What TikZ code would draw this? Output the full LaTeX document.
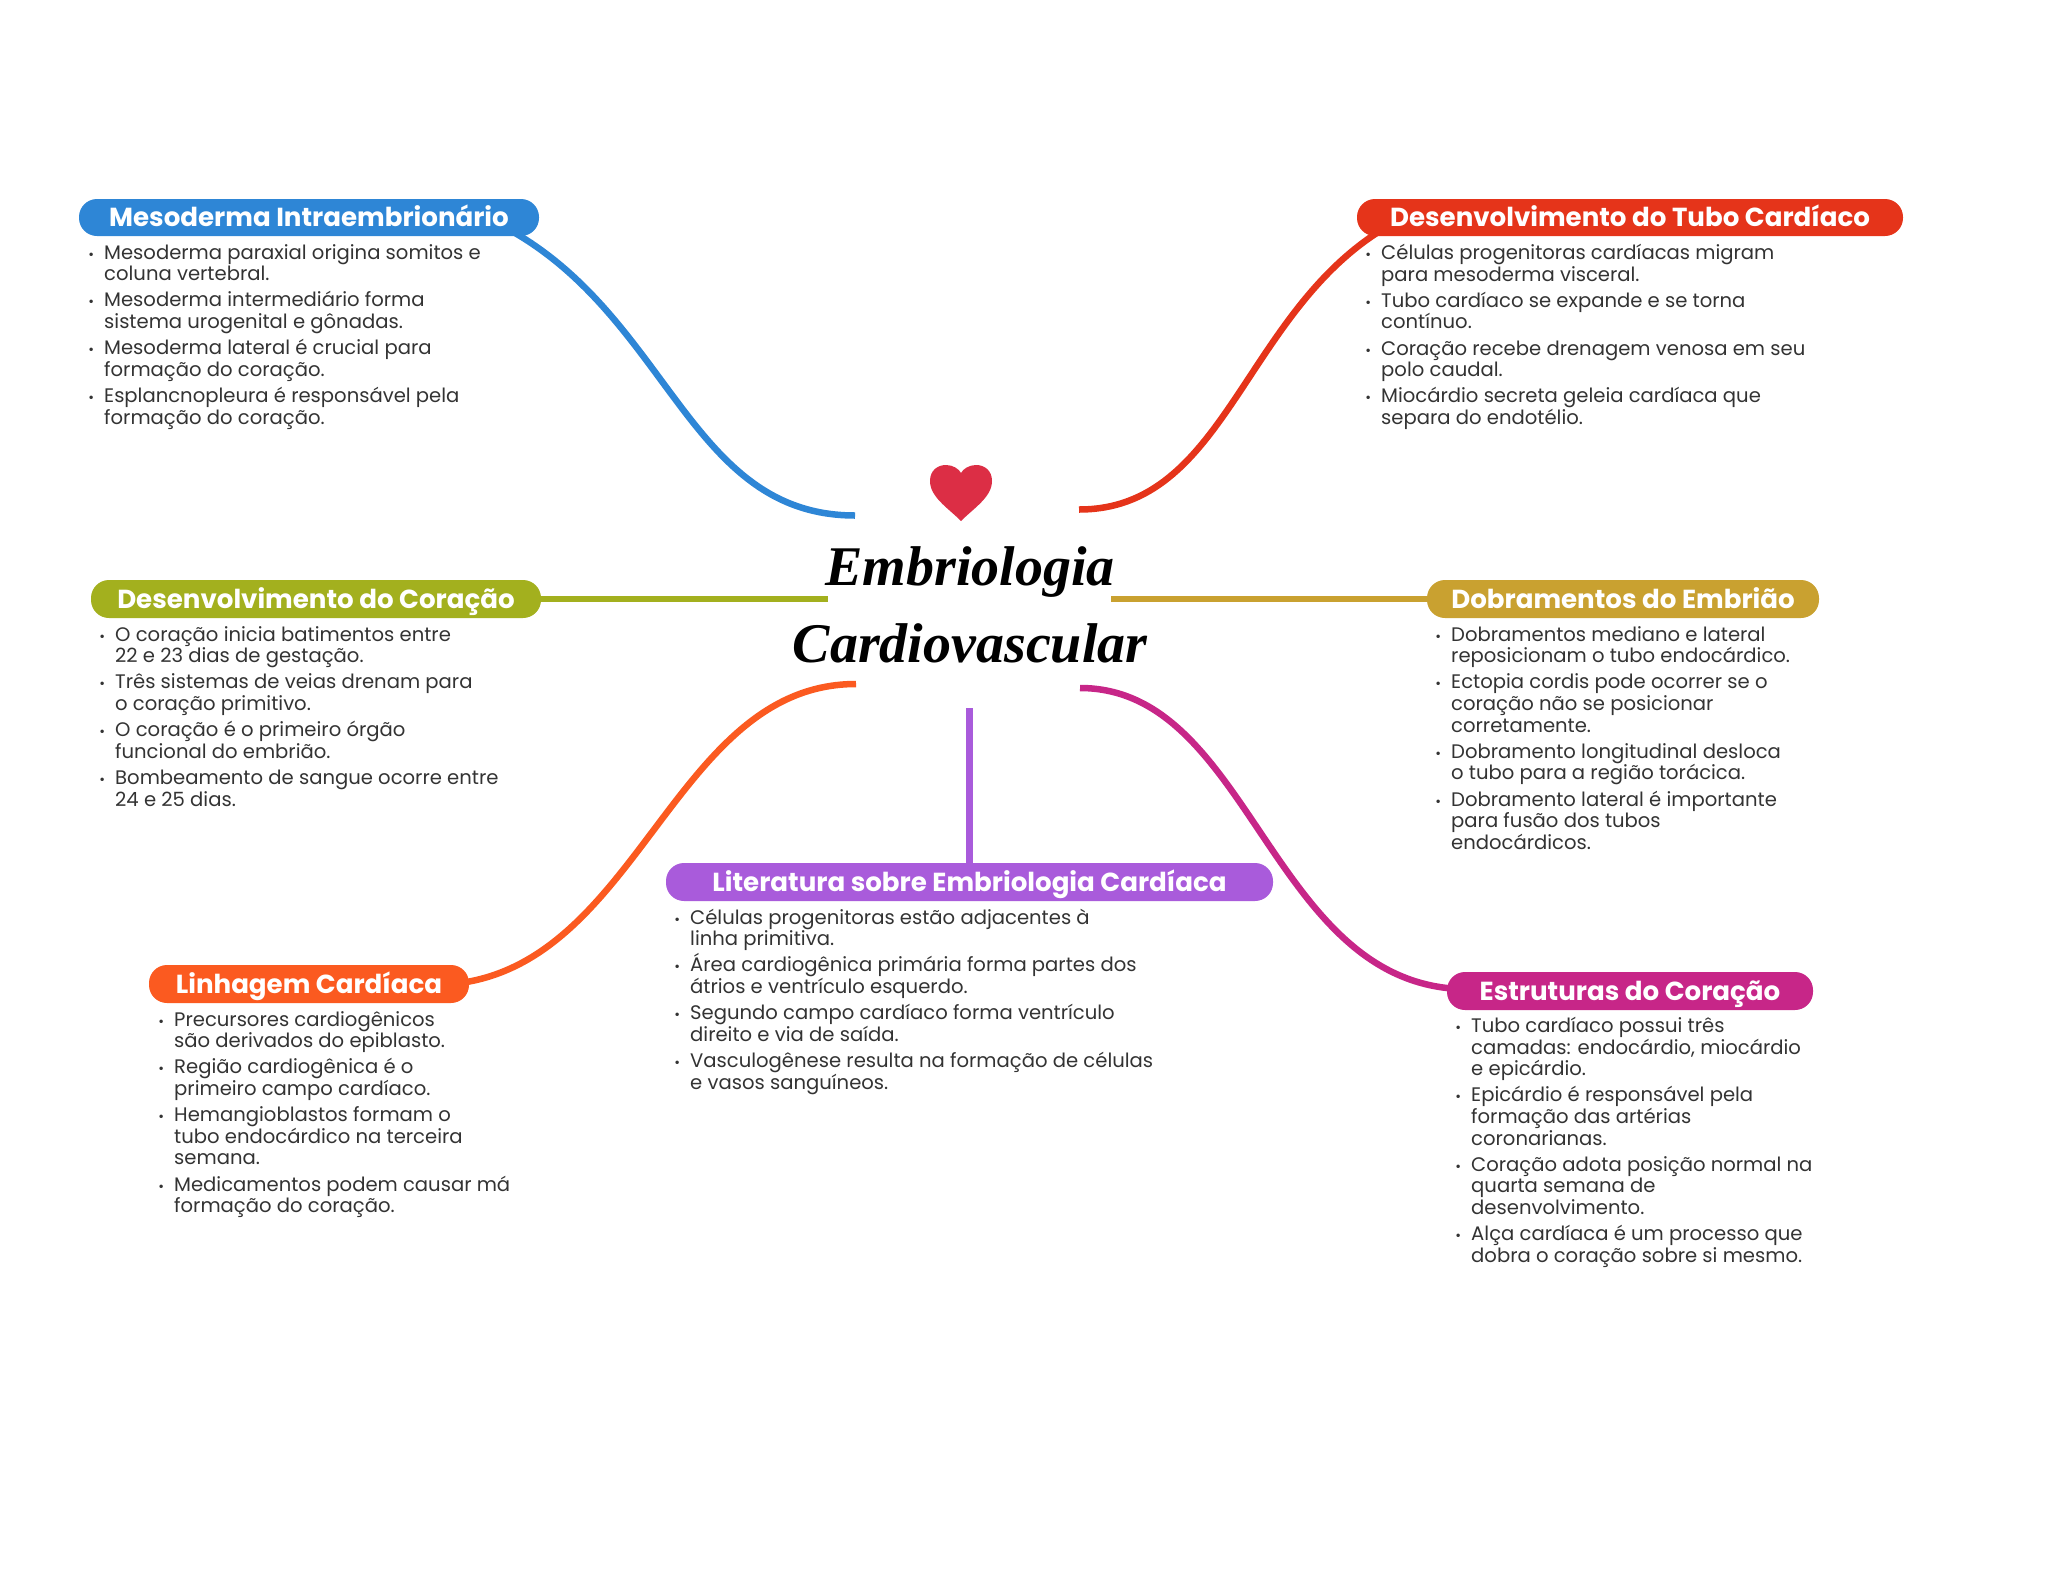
\documentclass[tikz,border=0pt]{standalone}
\usepackage{fontspec}
\setmainfont{Poppins}
\newfontfamily\scriptf{Liberation Serif}
\usetikzlibrary{backgrounds}
\definecolor{cblue}{HTML}{2E86D6}
\definecolor{cred}{HTML}{E5341A}
\definecolor{colive}{HTML}{A3B01E}
\definecolor{cgold}{HTML}{C9A130}
\definecolor{cpurple}{HTML}{A95BDB}
\definecolor{corange}{HTML}{FB5A20}
\definecolor{cmag}{HTML}{C72688}
\definecolor{cheart}{HTML}{DC2E45}
\definecolor{ctext}{HTML}{333333}
\newcommand\bul{\rule{0pt}{14pt}\llap{{\fontsize{14}{14}\selectfont\textbullet}\hspace{10pt}}}
\newcommand\nx{\\[4.6pt]}
\tikzset{
  pill/.style={rounded corners=18pt,text=white,font=\fontsize{26.1}{28}\selectfont\bfseries,inner sep=0pt,anchor=center,text height=22pt,text depth=4pt},
  body/.style={anchor=north west,inner sep=0pt,align=left,text=ctext,font=\fontsize{19.6}{21.6}\selectfont},
  link/.style={line width=6.5pt,line cap=butt},
  title/.style={font=\fontsize{56}{70}\scriptf\selectfont\itshape\bfseries,text=black,inner sep=0pt,anchor=base}
}
\begin{document}
\begin{tikzpicture}[x=1pt,y=-1pt]
\useasboundingbox (0,0) rectangle (2048,1569);
% pills
\node[pill,fill=cblue,minimum width=460pt,minimum height=37pt] (p1) at (309,217.5) {Mesoderma Intraembrionário};
\node[pill,fill=cred,minimum width=546pt,minimum height=37pt] (p2) at (1630,217.5) {Desenvolvimento do Tubo Cardíaco};
\node[pill,fill=colive,minimum width=450pt,minimum height=38pt] (p3) at (316,599) {Desenvolvimento do Coração};
\node[pill,fill=cgold,minimum width=392pt,minimum height=38pt] (p4) at (1623,599) {Dobramentos do Embrião};
\node[pill,fill=cpurple,minimum width=607pt,minimum height=38pt] (p5) at (969.5,882) {Literatura sobre Embriologia Cardíaca};
\node[pill,fill=corange,minimum width=320pt,minimum height=38pt] (p6) at (309,984) {Linhagem Cardíaca};
\node[pill,fill=cmag,minimum width=366pt,minimum height=38pt] (p7) at (1630,991) {Estruturas do Coração};
% title
\node[title] (t1) at (970,585) {Embriologia};
\node[title] (t2) at (970,662) {Cardiovascular};
% heart
\fill[cheart] (961,521) .. controls (948,508) and (930,497) .. (930,481) .. controls (930,470) and (938,465) .. (946,465) .. controls (953,465) and (959,469) .. (961,473) .. controls (963,469) and (969,465) .. (976,465) .. controls (984,465) and (992,470) .. (992,481) .. controls (992,497) and (974,508) .. (961,521) -- cycle;
% hub ends
\coordinate (h1) at (855,515.5);
\coordinate (h2) at (1079,509.5);
\coordinate (h3) at (828,599);
\coordinate (h4) at (1111,599);
\coordinate (h5) at (969.5,708);
\coordinate (h6) at (856,684);
\coordinate (h7) at (1080,688);
\begin{scope}[on background layer]
\draw[link,cblue] (p1.south east) ++(-29,-6) .. controls +(160,90) and +(-165,0) .. (h1);
\draw[link,cred] (p2.south west) ++(26,-7) .. controls +(-140,86) and +(146,0) .. (h2);
\draw[link,colive] (p3.east) -- (h3);
\draw[link,cgold] (p4.west) -- (h4);
\draw[link,cpurple] (p5.north) -- (h5);
\draw[link,corange] (p6.east) ++(-9,-1) .. controls +(180,-25) and +(-180,0) .. (h6);
\draw[link,cmag] (h7) .. controls +(170,0) and +(-190,-8) .. ([xshift=13pt,yshift=2pt]p7.west);
\end{scope}
% texts
\node[body] (b1) at (104,244) {\bul Mesoderma paraxial origina somitos e\\coluna vertebral.\nx
\bul Mesoderma intermediário forma\\sistema urogenital e gônadas.\nx
\bul Mesoderma lateral é crucial para\\formação do coração.\nx
\bul Esplancnopleura é responsável pela\\formação do coração.};
\node[body] (b2) at (1381,244) {\bul Células progenitoras cardíacas migram\\para mesoderma visceral.\nx
\bul Tubo cardíaco se expande e se torna\\contínuo.\nx
\bul Coração recebe drenagem venosa em seu\\polo caudal.\nx
\bul Miocárdio secreta geleia cardíaca que\\separa do endotélio.};
\node[body] (b3) at (115,626) {\bul O coração inicia batimentos entre\\22 e 23 dias de gestação.\nx
\bul Três sistemas de veias drenam para\\o coração primitivo.\nx
\bul O coração é o primeiro órgão\\funcional do embrião.\nx
\bul Bombeamento de sangue ocorre entre\\24 e 25 dias.};
\node[body] (b4) at (1451,626) {\bul Dobramentos mediano e lateral\\reposicionam o tubo endocárdico.\nx
\bul Ectopia cordis pode ocorrer se o\\coração não se posicionar\\corretamente.\nx
\bul Dobramento longitudinal desloca\\o tubo para a região torácica.\nx
\bul Dobramento lateral é importante\\para fusão dos tubos\\endocárdicos.};
\node[body] (b5) at (690,908.5) {\bul Células progenitoras estão adjacentes à\\linha primitiva.\nx
\bul \smash{Á}rea cardiogênica primária forma partes dos\\átrios e ventrículo esquerdo.\nx
\bul Segundo campo cardíaco forma ventrículo\\direito e via de saída.\nx
\bul Vasculogênese resulta na formação de células\\e vasos sanguíneos.};
\node[body] (b6) at (174,1011) {\bul Precursores cardiogênicos\\são derivados do epiblasto.\nx
\bul Região cardiogênica é o\\primeiro campo cardíaco.\nx
\bul Hemangioblastos formam o\\tubo endocárdico na terceira\\semana.\nx
\bul Medicamentos podem causar má\\formação do coração.};
\node[body] (b7) at (1471,1017) {\bul Tubo cardíaco possui três\\camadas: endocárdio, miocárdio\\e epicárdio.\nx
\bul Epicárdio é responsável pela\\formação das artérias\\coronarianas.\nx
\bul Coração adota posição normal na\\quarta semana de\\desenvolvimento.\nx
\bul Alça cardíaca é um processo que\\dobra o coração sobre si mesmo.};
\end{tikzpicture}
\end{document}
